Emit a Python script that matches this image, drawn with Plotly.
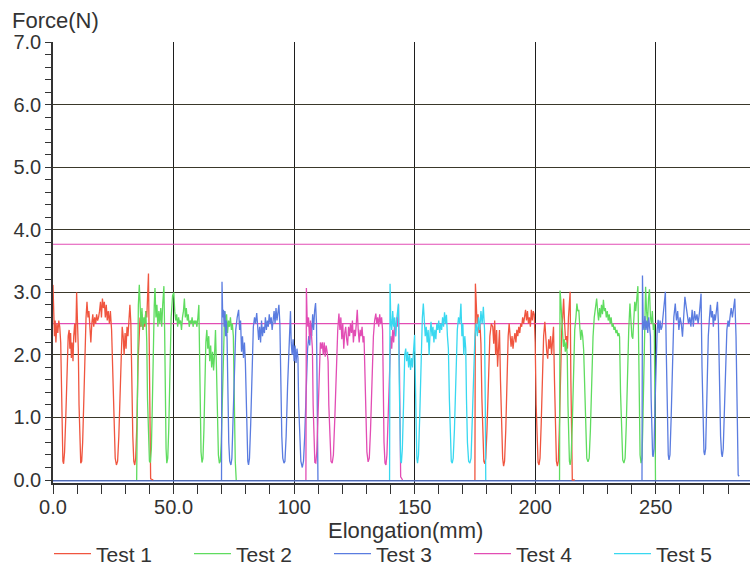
import plotly.graph_objects as go

# ---------------- data (Elongation mm, Force N) ----------------
test1_points = [
    (0.0,3.12),(0.3,2.85),(0.6,2.3),(0.9,2.55),(1.2,2.2),(1.6,2.5),(2.0,2.35),(2.4,2.55),(2.8,2.45),(3.2,2.2),
    (3.5,1.5),(3.8,0.7),(4.1,0.3),(4.4,0.26),(4.8,0.45),(5.3,1.0),(5.8,1.8),(6.3,2.3),(6.7,2.4),(7.0,2.1),
    (7.3,2.35),(7.6,1.95),(7.9,2.2),(8.3,1.9),(8.6,2.3),(9.0,2.5),(9.4,2.2),(9.8,3.0),(10.1,2.6),(10.5,2.1),
    (10.8,1.2),(11.1,0.5),(11.5,0.27),(11.9,0.3),(12.3,0.6),(12.8,1.3),(13.3,2.2),(13.7,2.6),(14.1,2.85),(14.5,2.6),
    (14.9,2.7),(15.3,2.4),(15.7,2.2),(16.1,2.5),(16.5,2.65),(16.9,2.45),(17.3,2.6),(17.7,2.5),(18.1,2.65),(18.5,2.55),
    (18.9,2.6),(19.3,2.7),(19.7,2.85),(20.1,2.6),(20.5,2.9),(20.9,2.75),(21.3,2.85),(21.7,2.6),(22.1,2.8),(22.5,2.55),
    (22.9,2.7),(23.4,2.5),(23.8,2.7),(24.3,2.4),(24.8,1.6),(25.3,0.8),(25.8,0.35),(26.3,0.24),(26.8,0.3),(27.3,0.7),
    (27.8,1.5),(28.3,2.2),(28.7,2.45),(29.1,2.3),(29.5,2.0),(29.9,2.35),(30.3,2.1),(30.7,2.45),(31.1,2.3),(31.5,2.55),
    (31.9,2.8),(32.3,2.5),(32.7,1.5),(33.1,0.7),(33.5,0.3),(33.9,0.24),(34.3,0.35),(34.8,0.9),(35.3,1.9),(35.7,2.45),
    (36.1,2.6),(36.5,2.45),(36.9,2.65),(37.3,2.4),(37.7,2.55),(38.1,2.45),(38.5,2.7),(38.9,2.6),(39.3,3.0),(39.6,3.3),
    (39.9,2.2),(40.2,0.8),(40.5,0.02),(41.6,0.0),
    (None,None),
    (175.0,0.0),(175.1,1.6),(175.2,3.14),(175.5,2.88),(175.9,2.5),(176.3,2.65),(176.7,2.35),(177.1,2.5),(177.5,2.18),(177.9,1.3),
    (178.3,0.6),(178.7,0.3),(179.1,0.26),(179.5,0.35),(180.0,0.8),(180.6,1.7),(181.2,2.3),(181.8,2.5),(182.4,2.45),(182.8,2.18),
    (183.2,2.55),(183.6,2.0),(184.0,2.4),(184.4,1.81),(184.8,2.2),(185.2,2.4),(185.6,1.6),(186.0,0.8),(186.5,0.35),(186.9,0.22),
    (187.3,0.3),(187.8,0.8),(188.3,1.7),(188.8,2.3),(189.2,2.5),(189.6,2.2),(190.0,2.13),(190.4,2.3),(190.8,2.1),(191.2,2.25),
    (191.6,2.35),(192.0,2.2),(192.4,2.4),(192.8,2.3),(193.2,2.45),(193.6,2.35),(194.0,2.5),(194.4,2.45),(194.8,2.6),(195.2,2.5),
    (195.6,2.65),(196.0,2.72),(196.4,2.55),(196.8,2.7),(197.2,2.5),(197.6,2.6),(198.0,2.45),(198.4,2.72),(198.8,2.55),(199.2,2.7),
    (199.6,2.65),(200.0,2.2),(200.4,1.2),(200.8,0.5),(201.2,0.28),(201.6,0.24),(202.0,0.35),(202.5,0.9),(203.0,1.8),(203.5,2.3),
    (204.0,2.53),(204.4,2.2),(204.8,2.05),(205.2,1.94),(205.6,2.25),(206.0,2.1),(206.4,2.3),(206.8,2.0),(207.2,2.2),(207.6,2.45),
    (208.0,1.6),(208.4,0.7),(208.8,0.3),(209.2,0.22),(209.6,0.3),(210.0,0.8),(210.5,1.8),(211.0,2.4),(211.4,2.6),(211.8,2.9),
    (212.2,2.5),(212.6,2.24),(213.0,2.3),(213.4,2.1),(213.8,2.6),(214.2,2.9),(214.5,3.01),(214.8,1.6),(215.1,0.5),(215.4,0.0),
    (216.4,0.0),
]

test2_points = [
    (34.7,0.0),(35.0,1.5),(35.4,2.8),(35.8,3.12),(36.1,2.7),(36.5,2.45),(36.9,2.75),(37.3,2.4),(37.7,2.6),(38.1,2.5),
    (38.5,2.7),(38.9,2.2),(39.2,1.3),(39.6,0.6),(40.0,0.3),(40.4,0.28),(40.8,0.5),(41.2,1.2),(41.6,2.2),(42.0,2.8),
    (42.3,3.07),(42.7,2.6),(43.1,2.8),(43.5,2.45),(43.9,2.7),(44.3,2.5),(44.7,2.75),(45.1,2.45),(45.5,2.8),(46.0,3.1),
    (46.3,2.4),(46.6,1.2),(46.9,0.5),(47.2,0.27),(47.6,0.35),(48.0,0.8),(48.5,1.8),(49.0,2.6),(49.6,2.95),(50.1,3.0),
    (50.5,2.7),(50.9,2.55),(51.3,2.65),(51.7,2.45),(52.1,2.6),(52.5,2.5),(52.9,2.55),(53.3,2.4),(53.7,2.6),(54.1,2.7),
    (54.5,2.9),(54.9,2.6),(55.3,2.75),(55.7,2.55),(56.1,2.65),(56.5,2.45),(56.9,2.55),(57.3,2.5),(57.7,2.6),(58.1,2.45),
    (58.5,2.55),(58.9,2.5),(59.3,2.55),(59.7,2.45),(60.1,2.6),(60.5,2.8),(60.8,2.0),(61.1,1.0),(61.4,0.45),(61.8,0.28),
    (62.2,0.35),(62.6,0.8),(63.0,1.6),(63.4,2.2),(63.8,2.4),(64.2,2.1),(64.6,2.3),(65.0,1.9),(65.4,2.15),(65.8,1.8),
    (66.2,2.05),(66.6,1.75),(67.0,2.0),(67.4,2.4),(67.8,1.8),(68.2,1.0),(68.6,0.4),(69.0,0.27),(69.4,0.3),(69.8,0.6),
    (70.3,1.4),(70.8,2.3),(71.2,2.7),(71.6,2.5),(72.0,2.65),(72.4,2.35),(72.8,2.55),(73.2,2.45),(73.6,2.6),(74.0,2.4),
    (74.4,2.5),(74.8,2.3),(75.2,1.2),(75.6,0.3),(76.0,0.0),
    (None,None),
    (210.1,0.0),(210.2,1.6),(210.3,3.03),(210.6,2.88),(210.9,2.62),(211.3,2.4),(211.7,2.13),(212.1,2.25),(212.5,2.05),(212.9,2.2),
    (213.3,2.0),(213.6,1.2),(213.9,0.6),(214.2,0.3),(214.5,0.24),(214.9,0.35),(215.4,0.9),(215.9,1.8),(216.4,2.4),(216.9,2.6),
    (217.3,2.82),(217.7,2.7),(218.1,2.72),(218.5,2.45),(218.9,2.24),(219.3,2.4),(219.7,2.3),(220.1,2.08),(220.5,1.5),(220.9,0.8),
    (221.4,0.35),(221.9,0.29),(222.4,0.35),(222.9,0.8),(223.5,1.7),(224.0,2.3),(224.5,2.6),(225.0,2.75),(225.5,2.9),(225.9,2.7),
    (226.3,2.55),(226.7,2.75),(227.1,2.6),(227.5,2.8),(227.9,2.65),(228.3,2.88),(228.7,2.7),(229.1,2.75),(229.5,2.6),(229.9,2.7),
    (230.3,2.55),(230.7,2.65),(231.1,2.5),(231.5,2.6),(231.9,2.45),(232.3,2.5),(232.7,2.4),(233.1,2.45),(233.5,2.35),(233.9,2.4),
    (234.3,2.3),(234.7,2.35),(235.0,2.29),(235.4,1.4),(235.8,0.7),(236.3,0.32),(236.8,0.27),(237.3,0.35),(237.8,0.9),(238.3,1.8),
    (238.8,2.4),(239.3,2.82),(239.7,2.6),(240.1,2.3),(240.5,2.26),(240.9,2.5),(241.3,2.85),(241.7,2.7),(242.2,2.98),(242.6,3.1),
    (242.9,2.2),(243.2,1.0),(243.5,0.4),(243.9,0.27),(244.3,0.35),(244.6,0.8),(245.0,1.7),(245.4,2.6),(245.8,3.09),(246.2,2.7),
    (246.6,2.5),(247.0,2.9),(247.4,3.05),(247.8,2.6),(248.2,2.5),(248.6,2.7),(249.0,2.4),(249.4,2.5),(249.7,1.5),(249.9,0.0),
]

test3_points = [
    (69.9,0.0),(70.0,1.6),(70.1,3.17),(70.4,2.6),(70.7,2.72),(71.0,2.45),(71.3,2.7),(71.6,2.3),(71.9,2.55),(72.2,2.25),
    (72.5,1.4),(72.9,0.6),(73.3,0.3),(73.8,0.24),(74.2,0.35),(74.7,0.9),(75.3,1.8),(75.8,2.4),(76.4,2.6),(77.0,2.72),
    (77.4,2.4),(77.8,2.55),(78.2,2.05),(78.6,2.3),(79.0,1.95),(79.4,2.2),(79.8,1.87),(80.1,1.2),(80.4,0.6),(80.8,0.3),
    (81.1,0.24),(81.5,0.35),(82.0,0.9),(82.6,1.9),(83.1,2.45),(83.6,2.6),(84.0,2.5),(84.5,2.67),(84.9,2.5),(85.3,2.24),
    (85.7,2.45),(86.1,2.2),(86.5,2.55),(86.9,2.3),(87.3,2.45),(87.7,2.35),(88.1,2.6),(88.5,2.4),(88.9,2.55),(89.3,2.45),
    (89.7,2.65),(90.1,2.5),(90.5,2.6),(90.9,2.4),(91.3,2.55),(91.7,2.7),(92.1,2.5),(92.5,2.75),(92.9,2.55),(93.3,2.7),
    (93.7,2.8),(94.1,2.5),(94.5,1.5),(94.9,0.7),(95.3,0.35),(95.8,0.27),(96.2,0.3),(96.7,0.7),(97.3,1.5),(97.8,2.1),
    (98.2,2.3),(98.5,2.7),(98.8,2.2),(99.2,2.0),(99.6,2.25),(100.0,1.9),(100.4,2.15),(100.8,1.87),(101.2,2.1),(101.6,1.95),
    (101.9,1.2),(102.3,0.6),(102.8,0.3),(103.4,0.2),(103.9,0.3),(104.4,0.7),(105.0,1.5),(105.6,2.1),(106.1,2.3),(106.5,2.15),
    (106.9,2.5),(107.3,2.3),(107.7,2.65),(108.1,2.4),(108.5,2.7),(108.9,2.83),(109.3,2.5),(109.7,1.0),(109.9,0.0),
    (None,None),
    (244.3,0.0),(244.4,1.6),(244.5,3.27),(244.8,2.5),(245.1,2.4),(245.5,2.62),(245.9,2.4),(246.3,2.55),(246.7,2.35),(247.1,2.6),
    (247.5,2.45),(247.8,2.3),(248.1,1.3),(248.4,0.6),(248.7,0.4),(248.9,0.37),(249.3,0.5),(249.7,1.2),(250.2,2.1),(250.6,2.4),
    (251.0,2.56),(251.4,2.35),(251.8,2.55),(252.2,2.4),(252.6,2.45),(253.0,2.6),(253.5,2.75),(254.0,3.01),(254.4,2.0),(254.8,0.9),
    (255.2,0.4),(255.5,0.32),(255.9,0.4),(256.4,1.0),(256.9,2.0),(257.5,2.6),(258.1,2.82),(258.6,2.55),(259.1,2.7),(259.6,2.4),
    (260.1,2.6),(260.6,2.5),(261.1,2.29),(261.6,2.55),(262.1,2.93),(262.6,2.78),(263.1,2.65),(263.6,2.5),(264.1,2.6),(264.6,2.45),
    (265.1,2.72),(265.6,2.45),(266.1,2.7),(266.6,2.55),(267.1,2.65),(267.6,2.5),(268.2,2.7),(268.8,2.98),(269.2,1.8),(269.6,0.9),
    (270.0,0.45),(270.3,0.4),(270.7,0.5),(271.2,1.3),(271.8,2.3),(272.3,2.6),(272.7,2.8),(273.1,2.6),(273.5,2.7),(273.9,2.45),
    (274.3,2.65),(274.7,2.55),(275.1,2.65),(275.6,2.85),(276.0,2.5),(276.5,1.4),(276.9,0.7),(277.3,0.42),(277.6,0.37),(278.0,0.5),
    (278.5,1.2),(279.0,2.0),(279.5,2.4),(280.0,2.55),(280.4,2.45),(280.8,2.6),(281.3,2.75),(281.8,2.6),(282.4,2.8),(282.8,2.9),
    (283.3,2.3),(283.7,1.0),(284.0,0.3),(284.2,0.08),(284.6,0.06),
]

test4_points = [
    (104.9,0.0),(105.0,1.5),(105.1,3.07),(105.4,2.6),(105.7,2.45),(106.0,2.6),(106.4,2.24),(106.8,2.55),(107.2,2.3),(107.6,2.1),
    (107.9,1.2),(108.2,0.55),(108.6,0.28),(109.0,0.27),(109.4,0.45),(109.9,1.0),(110.4,1.8),(110.9,2.2),(111.3,2.1),(111.7,2.2),
    (112.1,2.0),(112.5,2.2),(112.9,1.97),(113.3,2.15),(113.7,2.05),(114.1,1.9),(114.4,1.2),(114.8,0.6),(115.3,0.3),(115.8,0.27),
    (116.3,0.4),(116.9,1.0),(117.5,1.9),(118.1,2.4),(118.6,2.66),(119.0,2.4),(119.4,2.6),(119.8,2.25),(120.2,2.5),(120.6,2.1),
    (121.0,2.35),(121.4,2.45),(121.8,2.25),(122.2,2.15),(122.6,2.45),(123.0,2.3),(123.4,2.5),(123.8,2.35),(124.2,2.55),(124.6,2.2),
    (125.0,2.4),(125.4,2.3),(125.8,2.5),(126.2,2.72),(126.6,2.4),(127.0,2.2),(127.4,2.4),(127.8,2.3),(128.2,2.45),(128.6,2.2),
    (129.0,2.3),(129.4,1.7),(129.8,0.9),(130.2,0.45),(130.7,0.29),(131.2,0.35),(131.7,0.8),(132.3,1.7),(132.9,2.3),(133.4,2.55),
    (133.9,2.66),(134.3,2.5),(134.7,2.6),(135.1,2.45),(135.5,2.65),(135.9,2.5),(136.3,2.6),(136.7,2.4),(137.0,1.4),(137.3,0.6),
    (137.7,0.27),(138.1,0.24),(138.5,0.4),(139.0,1.0),(139.6,1.9),(140.1,2.3),(140.5,2.1),(140.9,2.4),(141.3,2.2),(141.7,2.5),
    (142.1,2.3),(142.5,2.6),(142.9,2.45),(143.3,2.8),(143.7,1.8),(144.0,0.3),(144.2,0.05),(145.0,0.0),
]

test5_points = [
    (139.6,0.0),(139.7,1.6),(139.8,3.14),(140.1,2.56),(140.5,2.4),(140.9,2.7),(141.3,2.45),(141.7,2.6),(142.1,2.3),(142.5,2.55),
    (142.9,2.75),(143.3,2.82),(143.6,1.6),(143.9,0.6),(144.2,0.3),(144.5,0.27),(144.9,0.5),(145.4,1.2),(145.9,2.0),(146.3,2.1),
    (146.7,1.9),(147.1,2.05),(147.5,1.8),(147.9,2.0),(148.3,1.76),(148.7,1.95),(149.1,1.8),(149.6,2.1),(150.0,2.32),(150.3,1.6),
    (150.6,0.8),(150.9,0.35),(151.2,0.27),(151.6,0.4),(152.1,1.0),(152.7,2.0),(153.2,2.6),(153.6,2.82),(154.0,2.5),(154.4,2.3),
    (154.8,2.45),(155.2,2.2),(155.6,2.4),(156.0,2.0),(156.4,2.35),(156.8,2.53),(157.2,2.3),(157.6,2.45),(158.0,2.2),(158.4,2.4),
    (158.8,2.25),(159.2,2.5),(159.6,2.4),(160.0,2.55),(160.4,2.35),(160.8,2.5),(161.2,2.4),(161.6,2.6),(162.0,2.45),(162.4,2.68),
    (162.8,2.5),(163.2,2.64),(163.6,2.3),(164.0,2.1),(164.4,1.3),(164.8,0.6),(165.2,0.3),(165.6,0.27),(166.0,0.35),(166.5,0.8),
    (167.1,1.7),(167.7,2.4),(168.2,2.6),(168.7,2.5),(169.2,2.82),(169.6,2.3),(170.0,2.5),(170.4,2.0),(170.8,2.3),(171.2,2.1),
    (171.5,1.3),(171.9,0.6),(172.4,0.3),(172.9,0.27),(173.4,0.35),(173.9,0.9),(174.5,1.8),(175.0,2.3),(175.5,2.5),(176.0,2.3),
    (176.5,2.6),(177.0,2.4),(177.5,2.7),(178.0,2.5),(178.5,2.77),(179.0,2.4),(179.3,1.2),(179.5,0.0),
]

# horizontal reference levels seen in the chart
ref_x_span = [0.0, 289.1]
test4_ref_levels = [2.5, 3.77]
test3_ref_level = -0.015

series_names = ["Test 1", "Test 2", "Test 3", "Test 4", "Test 5"]
series_colors = ["#f0553f", "#5fdc5f", "#5a7ce0", "#e24db4", "#38d8f0"]

x_tick_vals = [0, 50, 100, 150, 200, 250]
x_tick_text = ["0.0", "50.0", "100", "150", "200", "250"]
y_tick_vals = [0, 1, 2, 3, 4, 5, 6, 7]
y_tick_text = ["0.0", "1.0", "2.0", "3.0", "4.0", "5.0", "6.0", "7.0"]

# ---------------- figure ----------------
FONT = "Liberation Sans, Arial, sans-serif"
TXT = "#333333"
PLOT_W = 750 - 53 - 0
PLOT_H = 565 - 42 - 82

fig = go.Figure()

for lvl in test4_ref_levels:
    fig.add_trace(go.Scatter(x=ref_x_span, y=[lvl, lvl], mode="lines",
                             line=dict(color=series_colors[3], width=1.2),
                             showlegend=False, hoverinfo="skip"))
fig.add_trace(go.Scatter(x=ref_x_span, y=[test3_ref_level, test3_ref_level], mode="lines",
                         line=dict(color=series_colors[2], width=1.2),
                         showlegend=False, hoverinfo="skip"))

all_points = [test1_points, test2_points, test3_points, test4_points, test5_points]
for name, color, pts in zip(series_names, series_colors, all_points):
    xs = [p[0] for p in pts]
    ys = [p[1] for p in pts]
    fig.add_trace(go.Scatter(x=xs, y=ys, mode="lines", name=name,
                             line=dict(color=color, width=1.3),
                             connectgaps=False))

fig.update_layout(
    width=750, height=565, autosize=False,
    margin=dict(l=53, r=0, t=42, b=82, autoexpand=False),
    paper_bgcolor="white", plot_bgcolor="white",
    font=dict(family=FONT, size=20, color=TXT),
    showlegend=True,
    legend=dict(orientation="h", x=-4 / PLOT_W, xanchor="left",
                y=-(554 - 483) / PLOT_H, yanchor="middle",
                entrywidth=88, entrywidthmode="pixels",
                font=dict(family=FONT, size=21, color=TXT),
                bgcolor="rgba(0,0,0,0)", itemwidth=37,
                tracegroupgap=0),
)

fig.update_xaxes(
    range=[0, 289.1], tickvals=x_tick_vals, ticktext=x_tick_text,
    ticks="outside", ticklen=9, tickwidth=1.2, tickcolor="#333333",
    showline=True, linecolor="#333333", linewidth=1.5,
    showgrid=True, gridcolor="#1e1e1e", gridwidth=1.3,
    zeroline=False, automargin=False, ticklabelstandoff=-4,
    minor=dict(tick0=0, dtick=10, ticks="outside", ticklen=9, tickwidth=1.2,
               tickcolor="#333333", showgrid=False),
    tickfont=dict(family=FONT, size=20, color=TXT),
)
fig.update_yaxes(
    range=[-0.048, 7.004], tickvals=y_tick_vals, ticktext=y_tick_text,
    ticks="outside", ticklen=6, tickwidth=1.2, tickcolor="#333333",
    showline=True, linecolor="#333333", linewidth=1.5,
    showgrid=True, gridcolor="#3a382a", gridwidth=1.3,
    zeroline=False, automargin=False,
    minor=dict(tick0=0, dtick=0.2, ticks="outside", ticklen=6, tickwidth=1.2,
               tickcolor="#333333", showgrid=False),
    tickfont=dict(family=FONT, size=20, color=TXT),
)

fig.add_annotation(text="Force(N)", xref="paper", yref="paper",
                   x=-43 / PLOT_W, y=(483 - 20) / PLOT_H, xanchor="left", yanchor="middle",
                   showarrow=False, font=dict(family=FONT, size=22, color=TXT))
fig.add_annotation(text="Elongation(mm)", xref="paper", yref="paper",
                   x=(405 - 53) / PLOT_W, y=-(530 - 483) / PLOT_H, xanchor="center", yanchor="middle",
                   showarrow=False, font=dict(family=FONT, size=22, color=TXT))

fig.write_html("out.html", config={"displayModeBar": False},
               post_script="document.body.style.margin='0px';")
